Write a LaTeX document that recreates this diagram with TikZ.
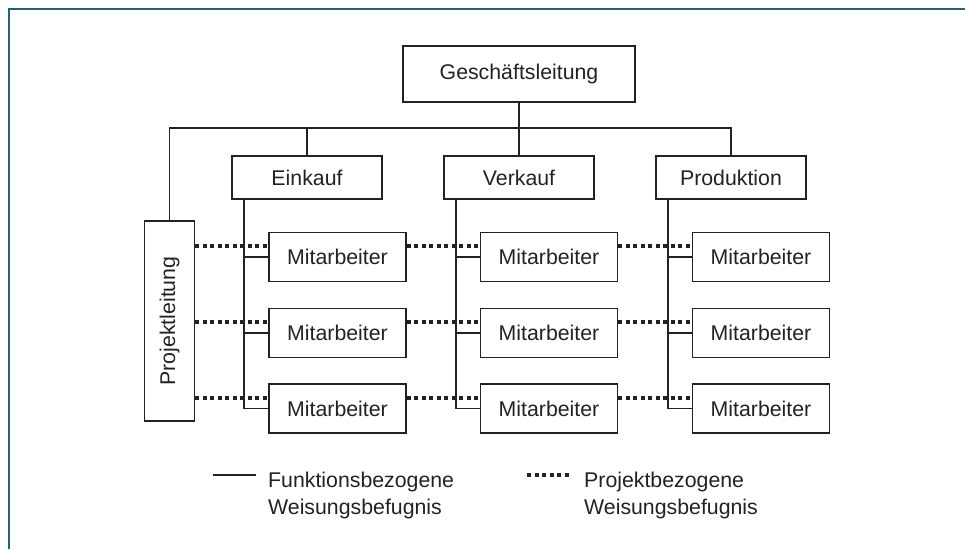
\documentclass[tikz,border=0pt]{standalone}
\usepackage{fontspec}
\setmainfont{Liberation Sans}
\definecolor{framecol}{RGB}{44,96,112}
\definecolor{inkcol}{RGB}{34,34,34}

\begin{document}
\begin{tikzpicture}[x=1pt,y=-1pt,
    box/.style={draw=inkcol, line width=1.8pt, inner sep=0pt, text=inkcol,
      font=\fontsize{21.3}{27}\selectfont},
    deptbox/.style={box, minimum width=150, minimum height=43},
    mabox/.style={box, minimum width=137, minimum height=49},
    funk/.style={draw=inkcol, line width=1.8pt},
    projline/.style={draw=inkcol, line width=4pt, dash pattern=on 4pt off 3.5pt},
    legendtext/.style={anchor=west, align=left, inner sep=0pt, text=inkcol,
      font=\fontsize{21.3}{27}\selectfont}]
  \useasboundingbox (0,0) rectangle (965,549);
  \draw[framecol, line width=2.4pt] (9,549) -- (9,9) -- (965,9);

  \node[box, minimum width=232, minimum height=56] (gl) at (519,74) {Geschäftsleitung};
  \node[deptbox] (ek) at (307,177.5) {Einkauf};
  \node[deptbox] (vk) at (519,177.5) {Verkauf};
  \node[deptbox] (pr) at (731,177.5) {Produktion};
  \node[box, minimum width=50, minimum height=200] (pl) at (169.5,321) {\rotatebox{90}{Projektleitung}};

  \node[mabox] (m11) at (337.5,257) {Mitarbeiter};
  \node[mabox] (m12) at (337.5,333) {Mitarbeiter};
  \node[mabox] (m13) at (337.5,408.5) {Mitarbeiter};
  \node[mabox] (m21) at (549,257) {Mitarbeiter};
  \node[mabox] (m22) at (549,333) {Mitarbeiter};
  \node[mabox] (m23) at (549,408.5) {Mitarbeiter};
  \node[mabox] (m31) at (761,257) {Mitarbeiter};
  \node[mabox] (m32) at (761,333) {Mitarbeiter};
  \node[mabox] (m33) at (761,408.5) {Mitarbeiter};

  % Linienorganisation
  \coordinate (busl) at (169.5,128);
  \coordinate (busr) at (731,128);
  \draw[funk] (pl.north) -- (busl) -- (busr) -- (pr.north);
  \draw[funk] (gl.south) -- (gl.south |- busl);
  \draw[funk] (ek.north) -- (ek.north |- busl);
  \draw[funk] (vk.north) -- (vk.north |- busl);
  \foreach \d/\c in {ek/1,vk/2,pr/3} {
    \foreach \r in {1,2,3}
      \draw[funk] ([xshift=12.5pt]\d.south west) |- (m\c\r.west);
  }

  % Projektlinien
  \foreach \r in {1,2,3} {
    \draw[projline] ([yshift=11pt]pl.east |- m1\r.west) -- ([yshift=11pt]m1\r.west);
    \draw[projline] ([yshift=11pt]m1\r.east) -- ([yshift=11pt]m2\r.west);
    \draw[projline] ([yshift=11pt]m2\r.east) -- ([yshift=11pt]m3\r.west);
  }

  % Legende
  \coordinate (lfa) at (213,475);
  \coordinate (lfb) at (256,475);
  \draw[funk] (lfa) -- (lfb);
  \node[legendtext] (lf) at (268,495) {Funktionsbezogene\\Weisungsbefugnis};
  \coordinate (lpa) at (527,475);
  \coordinate (lpb) at (569,475);
  \draw[projline] (lpa) -- (lpb);
  \node[legendtext] (lp) at (584,495) {Projektbezogene\\Weisungsbefugnis};
\end{tikzpicture}
\end{document}
